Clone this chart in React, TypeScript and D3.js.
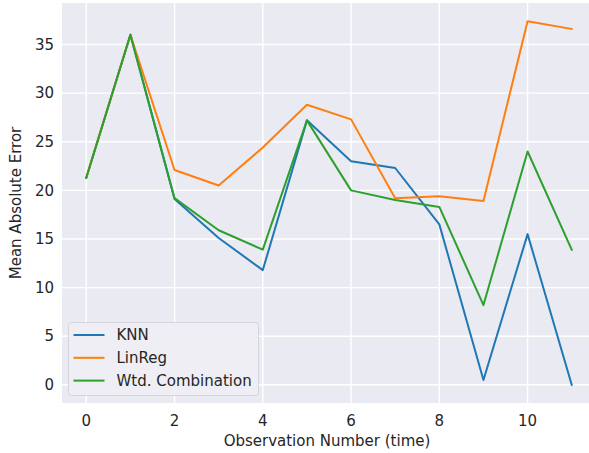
import React, { useEffect, useRef } from 'react';
import * as d3 from 'd3';

const observations: number[] = [0, 1, 2, 3, 4, 5, 6, 7, 8, 9, 10, 11];
const knn: number[] = [21.3, 36.0, 19.1, 15.1, 11.8, 27.2, 23.0, 22.3, 16.5, 0.5, 15.5, 0.0];
const linReg: number[] = [21.3, 36.0, 22.1, 20.5, 24.4, 28.8, 27.3, 19.2, 19.4, 18.9, 37.4, 36.6];
const wtdCombination: number[] = [21.3, 36.0, 19.2, 15.9, 13.9, 27.2, 20.0, 19.0, 18.3, 8.2, 24.0, 13.9];
const seriesNames: string[] = ['KNN', 'LinReg', 'Wtd. Combination'];
const xTicks: number[] = [0, 2, 4, 6, 8, 10];
const yTicks: number[] = [0, 5, 10, 15, 20, 25, 30, 35];

const App: React.FC = () => {
  const chartRef = useRef<SVGSVGElement | null>(null);
  const colors: string[] = ['#1f77b4', '#ff7f0e', '#2ca02c'];

  useEffect(() => {
    if (!chartRef.current) return;

    const width = 589;
    const height = 453;
    const margin = { top: 3, right: -7, bottom: 50, left: 62 };
    const font = '"DejaVu Sans", sans-serif';
    const textColor = '#262626';

    const svg = d3.select(chartRef.current);
    svg.selectAll('*').remove();
    svg.attr('width', width).attr('height', height);

    svg.append('rect').attr('width', width).attr('height', height).attr('fill', '#ffffff');

    const x = d3
      .scaleLinear()
      .domain([-0.55, 11.55])
      .range([margin.left, width - margin.right]);

    const y = d3
      .scaleLinear()
      .domain([-1.87, 39.27])
      .range([height - margin.bottom, margin.top]);

    // Axes background
    svg
      .append('rect')
      .attr('x', margin.left)
      .attr('y', margin.top)
      .attr('width', width - margin.right - margin.left)
      .attr('height', height - margin.bottom - margin.top)
      .attr('fill', '#eaeaf2');

    // Grid
    const grid = svg.append('g');
    grid
      .selectAll('.xgrid')
      .data(xTicks)
      .enter()
      .append('line')
      .attr('x1', (d) => x(d))
      .attr('x2', (d) => x(d))
      .attr('y1', margin.top)
      .attr('y2', height - margin.bottom)
      .attr('stroke', '#ffffff')
      .attr('stroke-width', 1.4);
    grid
      .selectAll('.ygrid')
      .data(yTicks)
      .enter()
      .append('line')
      .attr('x1', margin.left)
      .attr('x2', width - margin.right)
      .attr('y1', (d) => y(d))
      .attr('y2', (d) => y(d))
      .attr('stroke', '#ffffff')
      .attr('stroke-width', 1.4);

    // Tick labels
    svg
      .append('g')
      .selectAll('text')
      .data(xTicks)
      .enter()
      .append('text')
      .attr('x', (d) => x(d))
      .attr('y', height - margin.bottom + 23)
      .attr('text-anchor', 'middle')
      .attr('font-family', font)
      .attr('font-size', 15)
      .attr('fill', textColor)
      .text((d) => d);

    svg
      .append('g')
      .selectAll('text')
      .data(yTicks)
      .enter()
      .append('text')
      .attr('x', margin.left - 8)
      .attr('y', (d) => y(d))
      .attr('dy', '0.35em')
      .attr('text-anchor', 'end')
      .attr('font-family', font)
      .attr('font-size', 15)
      .attr('fill', textColor)
      .text((d) => d);

    // Axis titles
    svg
      .append('text')
      .attr('x', 327)
      .attr('y', 446)
      .attr('text-anchor', 'middle')
      .attr('font-family', font)
      .attr('font-size', 15)
      .attr('fill', textColor)
      .text('Observation Number (time)');

    svg
      .append('text')
      .attr('transform', `translate(21, ${(margin.top + height - margin.bottom) / 2}) rotate(-90)`)
      .attr('text-anchor', 'middle')
      .attr('font-family', font)
      .attr('font-size', 15)
      .attr('fill', textColor)
      .text('Mean Absolute Error');

    // Lines
    const series = [knn, linReg, wtdCombination];
    const line = d3
      .line<number>()
      .x((_, i) => x(observations[i]))
      .y((d) => y(d));

    series.forEach((s, i) => {
      svg
        .append('path')
        .datum(s)
        .attr('d', line)
        .attr('fill', 'none')
        .attr('stroke', colors[i])
        .attr('stroke-width', 2)
        .attr('stroke-linejoin', 'round')
        .attr('stroke-linecap', 'square');
    });

    // Legend
    const legend = svg.append('g').attr('transform', 'translate(68.5, 322.5)');
    legend
      .append('rect')
      .attr('width', 190)
      .attr('height', 73)
      .attr('rx', 3)
      .attr('fill', '#eeeef4')
      .attr('stroke', '#d4d4dc')
      .attr('stroke-width', 1);

    seriesNames.forEach((name, i) => {
      const ly = 12.5 + i * 22.8;
      legend
        .append('line')
        .attr('x1', 5)
        .attr('x2', 36)
        .attr('y1', ly)
        .attr('y2', ly)
        .attr('stroke', colors[i])
        .attr('stroke-width', 2);
      legend
        .append('text')
        .attr('x', 48)
        .attr('y', ly)
        .attr('dy', '0.35em')
        .attr('font-family', font)
        .attr('font-size', 15)
        .attr('fill', textColor)
        .text(name);
    });
  }, []);

  return <svg ref={chartRef} style={{ display: 'block', position: 'absolute', left: 0, top: 0 }}></svg>;
};

export default App;
